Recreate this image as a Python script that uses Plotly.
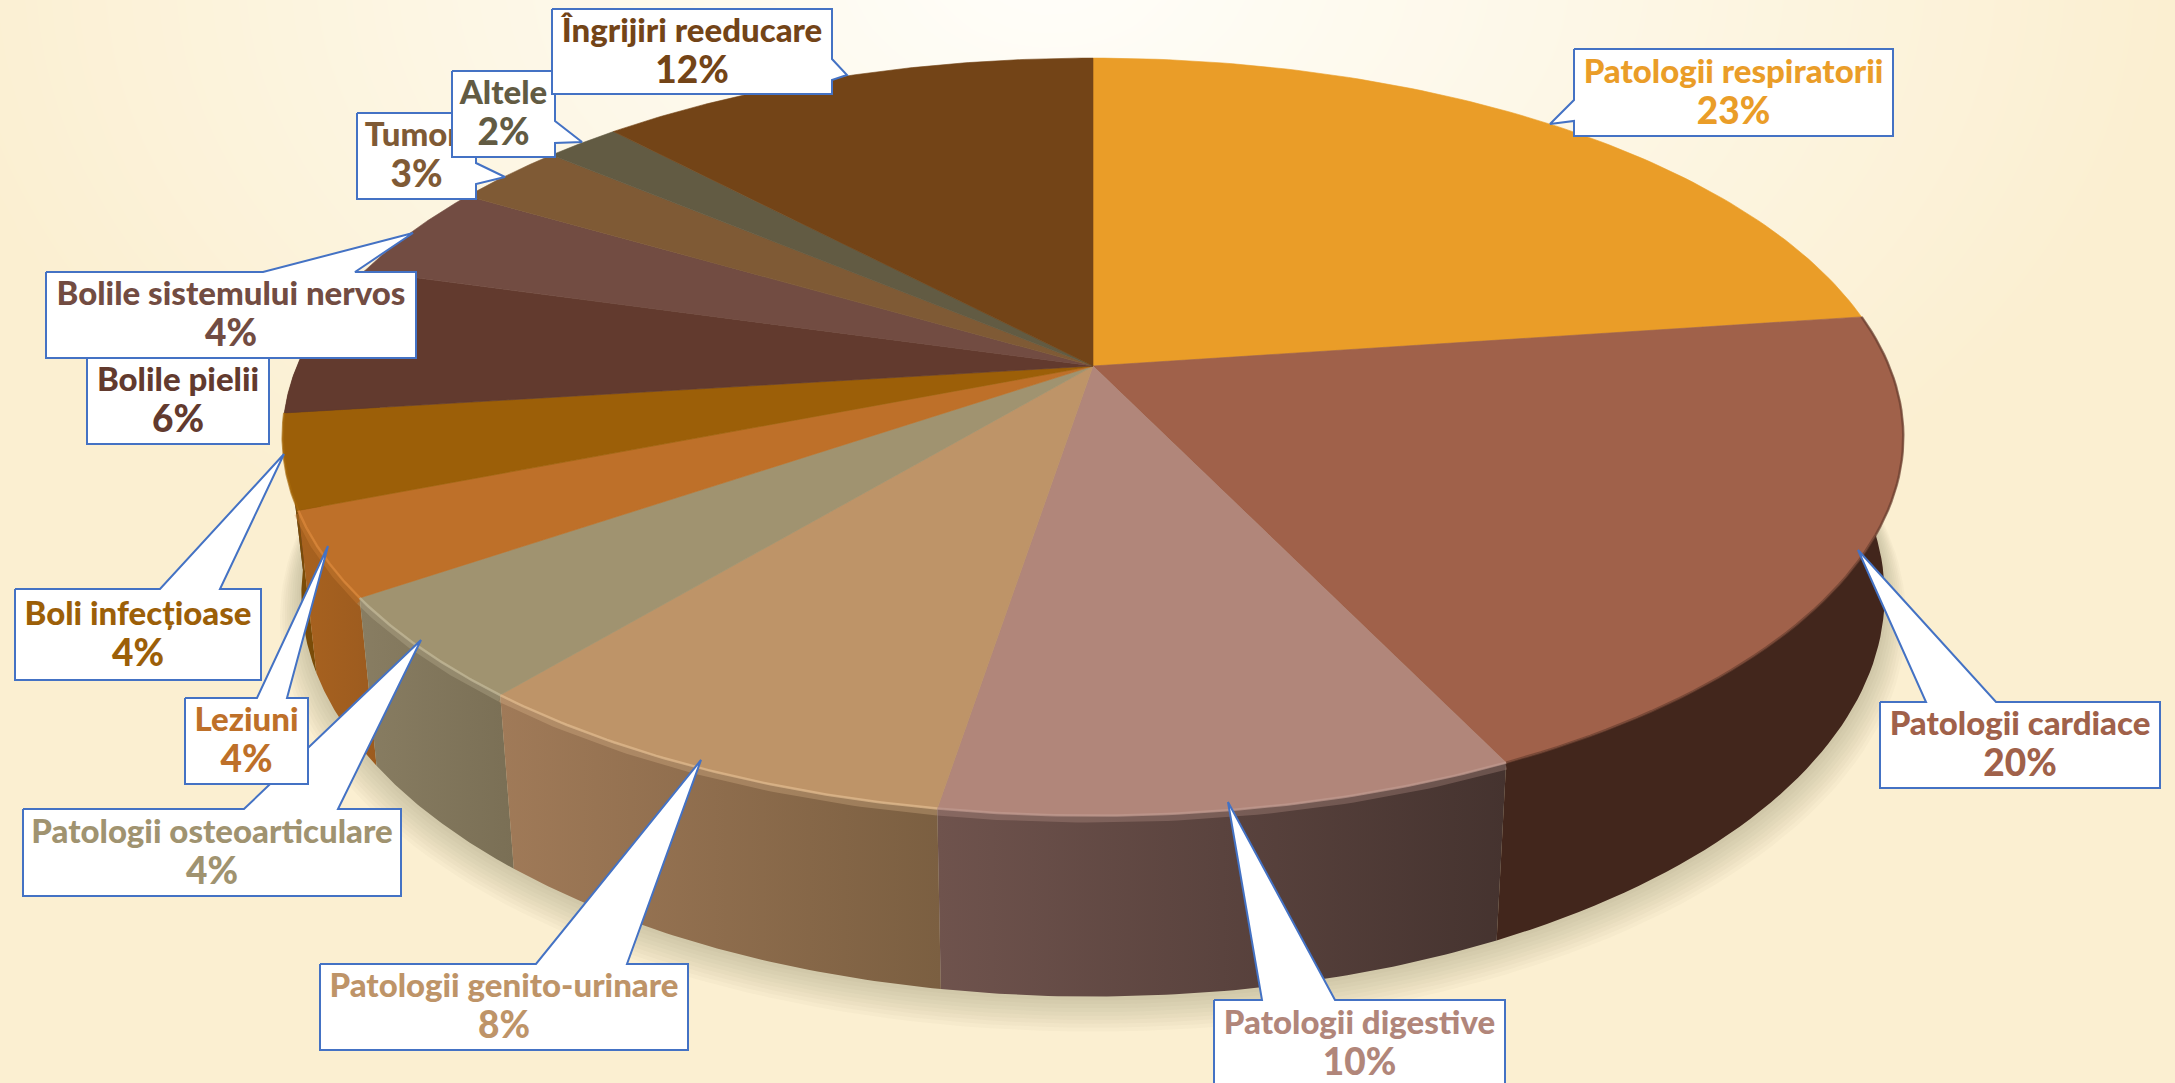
import numpy as np
import plotly.graph_objects as go

W, H = 2175, 1083

# ---- chart data ----
categories = ["Patologii respiratorii", "Patologii cardiace", "Patologii digestive",
              "Patologii genito-urinare", "Patologii osteoarticulare", "Leziuni",
              "Boli infecțioase", "Bolile pielii", "Bolile sistemului nervos",
              "Tumori", "Altele", "Îngrijiri reeducare"]
values = [22.8, 20.1, 9.65, 8.45, 4.4, 3.6, 4.0, 6.4, 4.1, 2.7, 1.8, 12.0]
top_colors = ["#EA9D28", "#A0614A", "#B1867A", "#BE9468", "#A09370", "#BE7029",
              "#9C5F08", "#623A2E", "#724C42", "#7F5A35", "#625B43", "#734417"]
wall_left = ["#5A3A10", "#42261C", "#6F534D", "#A07A58", "#887D62", "#A8621F",
             "#7A4C08", "#4A2A20", "#4A2A20", "#4A2A20", "#4A2A20", "#4A2A20"]
wall_right = ["#5A3A10", "#42261C", "#45332F", "#7B5F41", "#7A6F55", "#9C5B1F",
              "#7A4C08", "#4A2A20", "#4A2A20", "#4A2A20", "#4A2A20", "#4A2A20"]
rim_colors = ["#EA9D28", "#6A3F30", "#C09A90", "#E2BC90", "#C4BA9A", "#DE8A3C",
              "#A86A0C", "#623A2E", "#724C42", "#7F5A35", "#625B43", "#734417"]

# ---- callout boxes: left, top, right, bottom, side, base1, base2, tip x, tip y ----
box_respir = (1574, 49, 1893, 136, "left", 100, 121, 1550, 124)
box_cardiac = (1880, 702, 2160, 788, "top", 1926, 1996, 1858, 550)
box_digest = (1214, 1000, 1505, 1095, "top", 1262, 1335, 1228, 802)
box_genito = (320, 964, 688, 1050, "top", 536, 627, 701, 760)
box_osteo = (23, 809, 401, 896, "top", 244, 338, 421, 640)
box_lez = (185, 698, 308, 784, "top", 257, 287, 328, 546)
box_infect = (15, 589, 261, 680, "top", 160, 220, 284, 454)
box_piele = (87, 358, 269, 444, None, 0, 0, 0, 0)
box_nerv = (46, 272, 416, 358, "top", 263, 355, 413, 233)
box_tumori = (357, 113, 476, 199, "right", 163, 184, 505, 177)
box_altele = (452, 71, 555, 157, "right", 121, 143, 582, 142)
box_ingrij = (552, 9, 832, 94, "right", 59, 80, 847, 75)
# paint order matches the overlaps in the picture
box_order = [(0, box_respir), (1, box_cardiac), (2, box_digest), (3, box_genito),
             (4, box_osteo), (5, box_lez), (6, box_infect), (7, box_piele),
             (8, box_nerv), (9, box_tumori), (10, box_altele), (11, box_ingrij)]

# ---- projection of the tilted disc ----
CX, CY = 1093.0, 366.0
A, B, K = 796.0, 365.5, 0.187
SHRINK = 0.977


def top_xy(theta):
    u, v = np.sin(theta), np.cos(theta)
    d = 1 + K * v
    return CX + A * u / d, CY - B * v / d


def bottom_xy(theta):
    x, y = top_xy(theta)
    return CX + SHRINK * (x - CX), y + 154 + 0.06 * (y - CY)


fig = go.Figure()

# ---- page background ----
gx = np.linspace(0, W, 70)
gy = np.linspace(0, H, 40)
GX, GY = np.meshgrid(gx, gy)
glow = np.clip(np.sqrt(((GX - 1050) / 1120) ** 2 + ((GY + 30) / 720) ** 2), 0, 1)
fig.add_trace(go.Heatmap(x=gx, y=gy, z=glow, zmin=0, zmax=1, zsmooth="best", showscale=False,
                         colorscale=[[0, "#FFFEFA"], [0.5, "#FDF7E6"], [1, "#FBEFD1"]],
                         hoverinfo="skip"))

edges = 2 * np.pi * np.cumsum([0] + values) / sum(values)

# ---- soft shadow under the pie ----
ring = np.linspace(0, 2 * np.pi, 241)
bx, by = bottom_xy(ring)
for step in range(1, 10):
    grow = 1 + step * 0.003
    fig.add_trace(go.Scatter(x=CX + (bx - CX) * grow, y=CY + (by - CY) * grow + step * 2.0,
                             mode="lines", line=dict(width=0), fill="toself",
                             fillcolor="rgba(110,95,60,0.03)", hoverinfo="skip"))

# ---- side walls, slice by slice ----
for i in [7, 6, 5, 4, 3, 2, 1]:
    t = np.linspace(edges[i], edges[i + 1], 60)
    xt, yt = top_xy(t)
    xb, yb = bottom_xy(t)
    fig.add_trace(go.Scatter(
        x=np.concatenate([xt, xb[::-1], xt[:1]]), y=np.concatenate([yt, yb[::-1], yt[:1]]),
        mode="lines", line=dict(width=0), fill="toself", hoverinfo="skip",
        fillgradient=dict(type="horizontal",
                          colorscale=[[0, wall_left[i]], [1, wall_right[i]]])))

# ---- bevel: soft band where the wall meets the top face ----
for i in range(2, 6):
    t = np.linspace(edges[i], edges[i + 1], 60)
    xt, yt = top_xy(t)
    fig.add_trace(go.Scatter(x=xt, y=yt + 3, mode="lines", hoverinfo="skip", opacity=0.3,
                             line=dict(width=8, color=rim_colors[i])))

# ---- top face ----
for i in range(len(values)):
    t = np.linspace(edges[i], edges[i + 1], 90)
    xt, yt = top_xy(t)
    fig.add_trace(go.Scatter(x=np.concatenate([[CX], xt, [CX]]), y=np.concatenate([[CY], yt, [CY]]),
                             mode="lines", line=dict(width=0.6, color=top_colors[i]),
                             fill="toself", fillcolor=top_colors[i], hoverinfo="skip"))

# ---- edge of the front rim: lit on the left, shaded on the right ----
for i in range(1, 7):
    t = np.linspace(edges[i], edges[i + 1], 60)
    xt, yt = top_xy(t)
    fig.add_trace(go.Scatter(x=xt, y=yt, mode="lines", hoverinfo="skip", opacity=0.7,
                             line=dict(width=2.5, color=rim_colors[i])))

# ---- callouts, each box then its own text so later boxes can cover earlier text ----
for idx, (l, t_, r, b, side, p, q, tx, ty) in box_order:
    xs, ys = [l], [t_]
    if side == "top":
        xs += [p, tx, q]
        ys += [t_, ty, t_]
    xs.append(r)
    ys.append(t_)
    if side == "right":
        xs += [r, tx, r]
        ys += [p, ty, q]
    xs += [r, l]
    ys += [b, b]
    if side == "left":
        xs += [l, tx, l]
        ys += [q, ty, p]
    xs.append(l)
    ys.append(t_)
    fig.add_trace(go.Scatter(x=xs, y=ys, mode="lines", fill="toself", fillcolor="#FFFFFF",
                             line=dict(color="#4472C4", width=2), hoverinfo="skip"))
    mid_y = (t_ + b) / 2 if idx != 2 else 1044
    mid_x = (l + r) / 2
    fig.add_trace(go.Scatter(x=[mid_x, mid_x], y=[mid_y - 18, mid_y + 22], mode="text",
                             text=[categories[idx], f"{round(values[idx])}%"],
                             textposition="middle center", hoverinfo="skip",
                             textfont=dict(family="Lato", size=[33, 37], color=top_colors[idx], weight=900)))

fig.update_layout(
    width=W, height=H, margin=dict(l=0, r=0, t=0, b=0), showlegend=False,
    paper_bgcolor="#FBEFD1", plot_bgcolor="#FBEFD1",
    xaxis=dict(range=[0, W], visible=False, fixedrange=True),
    yaxis=dict(range=[H, 0], visible=False, fixedrange=True),
)
fig.write_html("out.html", config={"displayModeBar": False},
               post_script="document.body.style.margin='0';document.body.style.overflow='hidden';")
